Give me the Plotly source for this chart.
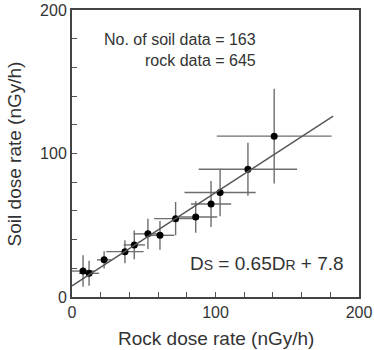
import plotly.graph_objects as go

# Data
rock_dose = [7.7, 11.9, 22.4, 36.9, 43.4, 52.9, 61.3, 72.2, 86.2, 96.9, 103.2, 122.6, 140.9]
soil_dose = [18.1, 16.5, 25.9, 31.6, 36.3, 44.0, 43.0, 54.6, 55.7, 64.8, 72.8, 89.0, 112.1]
rock_err = [8, 7, 5, 13, 7.5, 10, 10, 15, 15, 14, 24.8, 34.3, 40]
soil_err = [11, 8.7, 6, 8, 10, 10.5, 10, 11.6, 11, 16, 16.5, 18.5, 33]

fit_slope = 0.65
fit_intercept = 7.8
fit_x = [0, 182]
fit_y = [fit_slope * v + fit_intercept for v in fit_x]

tick_vals = list(range(0, 201, 20))
tick_text = ["0" if v == 0 else ("100" if v == 100 else ("200" if v == 200 else "")) for v in tick_vals]

x_title = "Rock dose rate (nGy/h)"
y_title = "Soil dose rate (nGy/h)"

FONT = "Liberation Sans, Arial, sans-serif"
TXT = "#333"

fig = go.Figure()
fig.add_trace(go.Scatter(
    x=rock_dose, y=soil_dose, mode="markers",
    marker=dict(color="black", size=7),
    error_x=dict(type="data", array=rock_err, color="#6e6e6e", thickness=1.4, width=0),
    error_y=dict(type="data", array=soil_err, color="#6e6e6e", thickness=1.4, width=0),
    showlegend=False, cliponaxis=True,
))
fig.add_trace(go.Scatter(
    x=fit_x, y=fit_y, mode="lines",
    line=dict(color="#555555", width=1.4),
    showlegend=False,
))

axis_common = dict(
    range=[0, 200], tickvals=tick_vals, ticktext=tick_text,
    ticks="inside", ticklen=5, tickwidth=1.2, tickcolor="#555",
    showline=True, linecolor="#444", linewidth=2, mirror=True,
    showgrid=False, zeroline=False, automargin=False,
    tickfont=dict(family=FONT, size=16, color=TXT),
)

fig.update_layout(
    width=374, height=350,
    margin=dict(l=72, r=15, t=10, b=53),
    paper_bgcolor="white", plot_bgcolor="white",
    font=dict(family=FONT, color=TXT),
    xaxis=dict(**axis_common),
    yaxis=dict(**axis_common),
    annotations=[
        dict(x=0.5, y=-0.143, xref="paper", yref="paper", text=x_title,
             showarrow=False, xanchor="center", yanchor="middle",
             font=dict(family=FONT, size=19, color=TXT)),
        dict(x=-0.199, y=0.5, xref="paper", yref="paper", text=y_title,
             showarrow=False, xanchor="center", yanchor="middle", textangle=-90,
             font=dict(family=FONT, size=19, color=TXT)),
        dict(x=129.6, y=179.6, xref="x", yref="y", text="No. of soil data = 163",
             showarrow=False, xanchor="right", yanchor="middle",
             font=dict(family=FONT, size=16, color=TXT)),
        dict(x=129.6, y=165.0, xref="x", yref="y", text="rock data = 645",
             showarrow=False, xanchor="right", yanchor="middle",
             font=dict(family=FONT, size=16, color=TXT)),
        dict(x=81.0, y=23.5, xref="x", yref="y",
             text="D<span style='font-size:14px'>S</span> = 0.65D<span style='font-size:14px'>R</span> + 7.8",
             showarrow=False, xanchor="left", yanchor="middle",
             font=dict(family=FONT, size=19, color=TXT)),
    ],
)

fig.write_html(
    "out.html",
    config={"displayModeBar": False},
    post_script="document.body.style.margin='0';document.body.style.overflow='hidden';",
)
